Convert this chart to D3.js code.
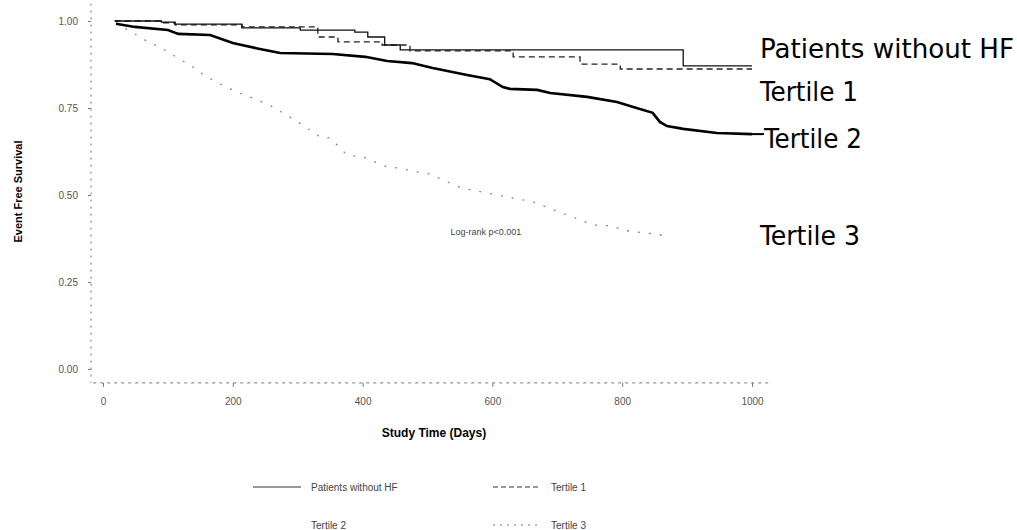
<!DOCTYPE html>
<html>
<head>
<meta charset="utf-8">
<script src="https://cdn.jsdelivr.net/npm/d3@7"></script>
<style>
  body { margin: 0; background: #fff; }
  svg { display: block; }
</style>
</head>
<body>
<svg id="chart" width="1017" height="530"></svg>
<script>
// Kaplan-Meier style survival curves (days, event free survival)
var patientsNoHF = [[18, 1.0], [90, 0.997], [111, 0.991], [214, 0.980], [304, 0.974], [388, 0.968],
    [408, 0.954], [434, 0.931], [458, 0.917], [894, 0.871], [1000, 0.871]];
var tertile1 = [[18, 1.0], [91, 0.995], [111, 0.989], [214, 0.983], [331, 0.954], [362, 0.940],
    [430, 0.931], [473, 0.914], [632, 0.897], [735, 0.876], [797, 0.862], [1000, 0.862]];
var tertile2 = [[20, 0.992], [49, 0.983], [100, 0.974], [116, 0.963], [165, 0.960], [200, 0.937],
    [236, 0.922], [273, 0.908], [354, 0.905], [404, 0.897], [438, 0.885], [476, 0.879], [508, 0.865],
    [561, 0.845], [596, 0.833], [616, 0.810], [627, 0.805], [669, 0.802], [689, 0.793], [746, 0.782],
    [792, 0.767], [817, 0.753], [847, 0.736], [858, 0.710], [869, 0.698], [894, 0.690], [946, 0.678],
    [1000, 0.675]];
var tertile3 = [[20, 0.995], [72, 0.937], [88, 0.925], [123, 0.885], [134, 0.874], [149, 0.853],
    [169, 0.830], [206, 0.796], [234, 0.776], [262, 0.753], [308, 0.701], [334, 0.667], [350, 0.664],
    [376, 0.615], [401, 0.609], [438, 0.580], [453, 0.578], [484, 0.566], [499, 0.563], [553, 0.520],
    [663, 0.480], [755, 0.414], [786, 0.411], [800, 0.399], [861, 0.385]];

var xTicks = [0, 200, 400, 600, 800, 1000];
var yTicks = [0, 0.25, 0.5, 0.75, 1.0];

var legendRow1 = ['Patients without HF', 'Tertile 1'];
var legendRow2 = ['Tertile 2', 'Tertile 3'];

// handwritten notes on the right, with the survival value they sit beside
var notes = ['Patients without HF', 'Tertile 1', 'Tertile 2', 'Tertile 3'];
var noteLevels = [0.922, 0.80, 0.665, 0.385];
var pValueText = 'Log-rank p<0.001';

var svg = d3.select('#chart');
svg.append('rect').attr('width', 1017).attr('height', 530).attr('fill', '#fff');

var x = d3.scaleLinear().domain([0, 1000]).range([103, 752]),
    y = d3.scaleLinear().domain([0, 1]).range([369, 21]);

// axes (dotted, like the scanned figure)
var yAxis = d3.axisLeft(y).tickValues(yTicks).tickFormat(d3.format('.2f')).tickSize(3).tickPadding(10);
var gy = svg.append('g').attr('transform', 'translate(91,0)').call(yAxis);
gy.select('.domain').remove();
gy.append('line')
    .attr('y1', y(1.05)).attr('y2', y(-0.04))
    .attr('stroke', '#777').attr('stroke-dasharray', '2,5');
gy.selectAll('.tick line').attr('stroke', '#777');
gy.selectAll('text').attr('fill', '#555').style('font', '10px Arial, "Liberation Sans", sans-serif');

var xAxis = d3.axisBottom(x).tickValues(xTicks).tickFormat(d3.format('d')).tickSize(4).tickPadding(11);
var gx = svg.append('g').attr('transform', 'translate(0,' + y(-0.04) + ')').call(xAxis);
gx.select('.domain').remove();
gx.append('line')
    .attr('x1', x(-15)).attr('x2', x(1025))
    .attr('stroke', '#777').attr('stroke-dasharray', '3,4');
gx.selectAll('.tick line').attr('stroke', '#777');
gx.selectAll('text').attr('fill', '#555').style('font', '10px Arial, "Liberation Sans", sans-serif');

// axis titles
svg.append('text')
    .attr('transform', 'translate(22,' + y(0.51) + ') rotate(-90)')
    .attr('text-anchor', 'middle')
    .style('font', 'bold 11px Arial, "Liberation Sans", sans-serif')
    .text('Event Free Survival');
svg.append('text')
    .attr('x', x(510)).attr('y', 437)
    .attr('text-anchor', 'middle')
    .style('font', 'bold 12px Arial, "Liberation Sans", sans-serif')
    .text('Study Time (Days)');

// curves
var stepLine = d3.line().x(function(d) { return x(d[0]); }).y(function(d) { return y(d[1]); }).curve(d3.curveStepAfter);
var smoothLine = d3.line().x(function(d) { return x(d[0]); }).y(function(d) { return y(d[1]); });

svg.append('path').datum(tertile3).attr('d', smoothLine)
    .attr('fill', 'none').attr('stroke', '#888').attr('stroke-width', 1.3).attr('stroke-dasharray', '2,9');
svg.append('path').datum(tertile1).attr('d', stepLine)
    .attr('fill', 'none').attr('stroke', '#222').attr('stroke-width', 1.3).attr('stroke-dasharray', '6,4');
svg.append('path').datum(patientsNoHF).attr('d', stepLine)
    .attr('fill', 'none').attr('stroke', '#111').attr('stroke-width', 1.3);
svg.append('path').datum(tertile2).attr('d', smoothLine)
    .attr('fill', 'none').attr('stroke', '#000').attr('stroke-width', 2.6);

// p-value note
svg.append('text')
    .attr('x', x(590)).attr('y', y(0.385))
    .attr('text-anchor', 'middle').attr('fill', '#444')
    .style('font', '9px Arial, "Liberation Sans", sans-serif')
    .text(pValueText);

// legend
var legend = svg.append('g').style('font', '10px Arial, "Liberation Sans", sans-serif');
var colX = [253, 493], rowY = [487, 525];
var sampleStyles = [
    { dash: null, width: 1.2, color: '#333' },
    { dash: '5,3', width: 1.2, color: '#333' },
    { dash: null, width: 0, color: '#fff' },
    { dash: '2,5', width: 1.2, color: '#777' }
];
[legendRow1, legendRow2].forEach(function(row, r) {
    row.forEach(function(label, c) {
        var s = sampleStyles[r * 2 + c];
        if (s.width > 0) {
            legend.append('line')
                .attr('x1', colX[c]).attr('x2', colX[c] + 48)
                .attr('y1', rowY[r]).attr('y2', rowY[r])
                .attr('stroke', s.color).attr('stroke-width', s.width)
                .attr('stroke-dasharray', s.dash);
        }
        legend.append('text')
            .attr('x', colX[c] + 58).attr('y', rowY[r] + 3.5)
            .attr('fill', '#444')
            .text(label);
    });
});

// handwritten labels on the right
var noteWidths = [254, 98, 98, 100];
var notesG = svg.append('g').style('font', '26px "Liberation Sans Narrow", "DejaVu Sans Condensed", sans-serif');
notes.forEach(function(t, i) {
    notesG.append('text')
        .attr('x', i === 2 ? 764 : 760)
        .attr('y', y(noteLevels[i]) + 10)
        .attr('textLength', noteWidths[i])
        .attr('lengthAdjust', 'spacingAndGlyphs')
        .text(t);
});
// leader from Tertile 2 to its label
svg.append('line')
    .attr('x1', x(1000)).attr('x2', 764)
    .attr('y1', y(tertile2[tertile2.length - 1][1])).attr('y2', y(tertile2[tertile2.length - 1][1]))
    .attr('stroke', '#000').attr('stroke-width', 2);
</script>
</body>
</html>
